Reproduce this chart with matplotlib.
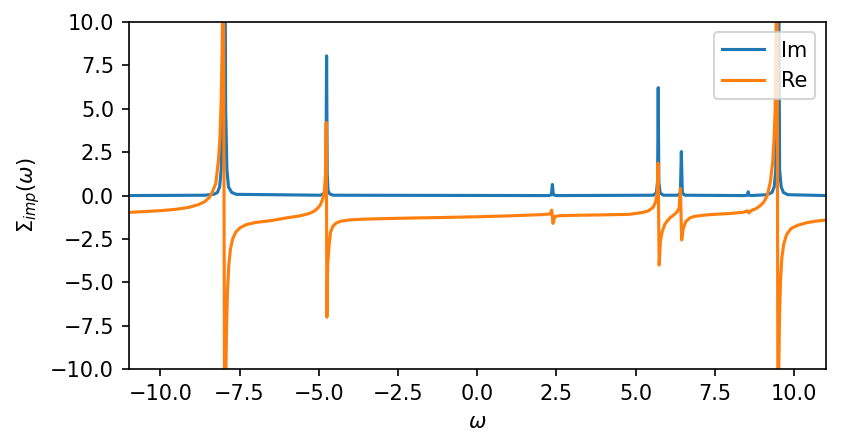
import matplotlib
matplotlib.use("Agg")
import matplotlib.pyplot as plt

# Im part of the impurity self-energy
omega_im = [-11.0, -8.6, -8.3, -8.2, -8.13, -8.08, -8.04, -7.99, -7.94, -7.9, -7.85,
            -7.75, -7.6, -4.95, -4.85, -4.8, -4.775, -4.755, -4.735, -4.71, -4.66,
            -4.55, 2.25, 2.34, 2.37, 2.40, 2.49, 5.55, 5.65, 5.69, 5.71, 5.73,
            5.77, 5.87, 6.33, 6.41, 6.44, 6.47, 6.55, 8.45, 8.53, 8.55, 8.57,
            8.65, 9.15, 9.3, 9.37, 9.42, 9.48, 9.54, 9.59, 9.66, 9.8, 11.0]
im_vals = [0.0, 0.02, 0.08, 0.18, 0.5, 1.5, 5.0, 28.0, 5.0, 1.5, 0.5,
           0.18, 0.07, 0.02, 0.1, 0.3, 1.2, 8.04, 1.2, 0.3, 0.1,
           0.02, 0.0, 0.05, 0.64, 0.05, 0.0, 0.02, 0.15, 0.8, 6.21, 0.8,
           0.15, 0.02, 0.02, 0.15, 2.53, 0.15, 0.02, 0.0, 0.03, 0.22, 0.03,
           0.0, 0.05, 0.18, 0.5, 1.5, 28.0, 1.5, 0.5, 0.18, 0.05, 0.0]

# Re part of the impurity self-energy
omega_re = [-11.0, -10.5, -10.0, -9.5, -9.1, -8.8, -8.6, -8.45, -8.35, -8.25,
            -8.17, -8.12, -8.08, -8.05, -8.03, -8.01, -7.97, -7.94, -7.91,
            -7.88, -7.84, -7.79, -7.72, -7.62, -7.48, -7.3, -7.0, -6.5, -6.0,
            -5.6, -5.3, -5.15, -5.03, -4.94, -4.87, -4.82, -4.79, -4.765,
            -4.745, -4.72, -4.68, -4.63, -4.55, -4.45, -4.3, -4.0, -3.6, -3.0,
            -2.0, -1.0, 0.0, 1.0, 2.0, 2.3, 2.35, 2.39, 2.45, 2.6, 3.3, 4.0,
            4.8, 5.2, 5.4, 5.55, 5.63, 5.68, 5.705, 5.74, 5.78, 5.84, 5.92,
            6.0, 6.1, 6.21, 6.3, 6.37, 6.41, 6.45, 6.5, 6.58, 6.7, 6.84, 7.2,
            7.5, 8.0, 8.4, 8.53, 8.57, 8.65, 8.8, 8.95, 9.05, 9.15, 9.25, 9.32,
            9.37, 9.40, 9.42, 9.44, 9.46, 9.49, 9.51, 9.54, 9.57, 9.61, 9.67,
            9.76, 9.9, 10.1, 10.4, 10.7, 11.0]
re_vals = [-0.97, -0.92, -0.87, -0.79, -0.68, -0.52, -0.35, -0.1, 0.25, 0.7,
           2.0, 3.3, 5.5, 8.5, 12.0, 14.0, -16.0, -11.0, -7.5,
           -5.4, -4.0, -3.1, -2.5, -2.1, -1.85, -1.68, -1.55, -1.44, -1.28,
           -1.17, -1.03, -0.9, -0.72, -0.5, -0.15, 0.3, 1.2, 4.2,
           -7.0, -4.0, -2.95, -2.1, -1.75, -1.58, -1.47, -1.4, -1.36, -1.33,
           -1.29, -1.26, -1.22, -1.17, -1.1, -1.06, -0.84, -1.6, -1.2, -1.16,
           -1.13, -1.11, -1.08, -0.98, -0.88, -0.68, -0.35, 0.2, 1.86, -4.0,
           -2.6, -2.05, -1.65, -1.45, -1.25, -1.1, -0.95, -0.72, 0.4, -2.56,
           -1.9, -1.5, -1.3, -1.2, -1.12, -1.08, -1.03, -0.96, -0.88, -1.0,
           -0.86, -0.75, -0.55, -0.35, 0.0, 0.8, 1.9, 3.4, 5.0, 7.0, 11.0,
           14.0, -16.0, -10.5, -6.8, -4.9, -3.6, -2.8, -2.25, -1.9, -1.72,
           -1.56, -1.47, -1.41]

fig, ax = plt.subplots(figsize=(841 / 150, 447 / 150), dpi=150)
fig.subplots_adjust(left=0.153, right=0.982, top=0.951, bottom=0.174)

ax.plot(omega_im, im_vals, label="Im")
ax.plot(omega_re, re_vals, label="Re")

ax.set_xlim(-11, 11)
ax.set_ylim(-10, 10)
ax.set_xlabel(r"$\omega$")
ax.set_ylabel(r"$\Sigma_{imp}(\omega)$")
ax.legend(loc="upper right")

fig.savefig("out.png", dpi=150)
